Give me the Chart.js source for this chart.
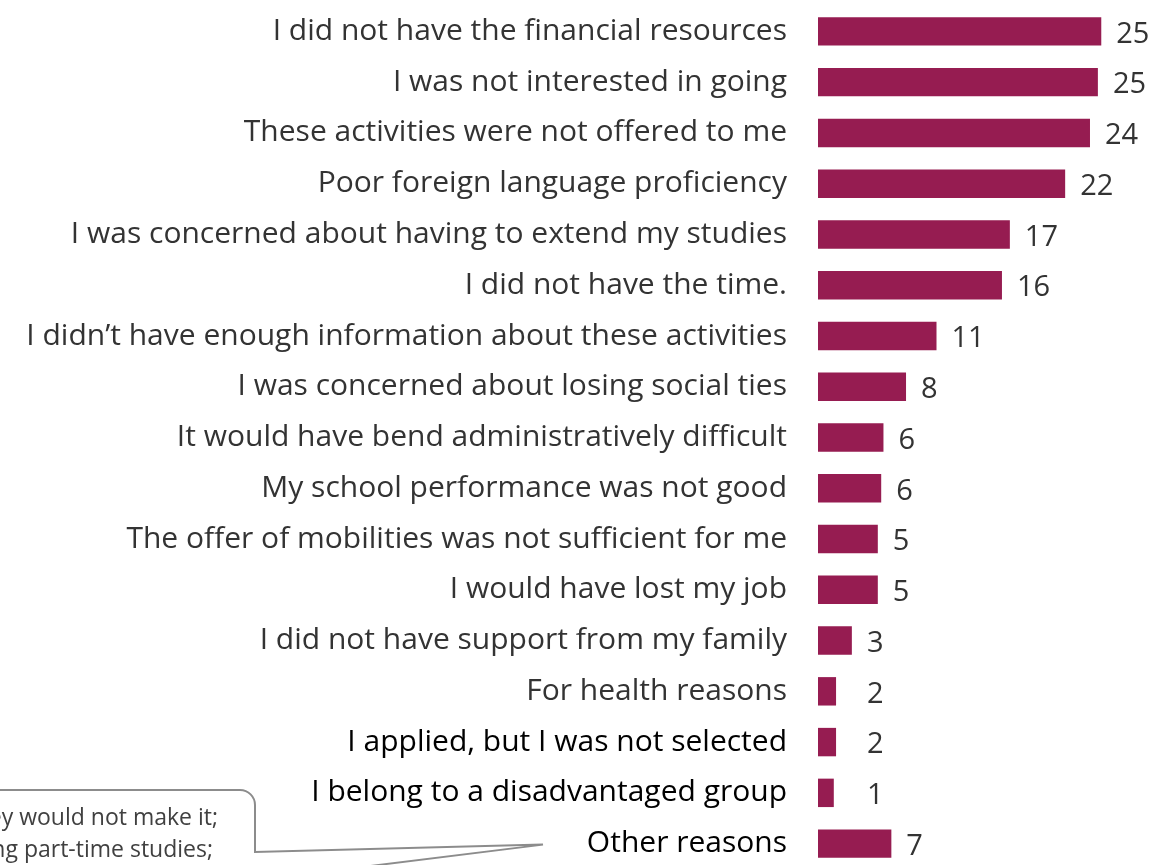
<!DOCTYPE html>
<html lang="en">
<head>
  <meta charset="UTF-8" />
  <title>Reasons for not taking part in mobility activities</title>
  <script src="https://cdn.jsdelivr.net/npm/chart.js"></script>
  <style>
    html, body {
      margin: 0;
      padding: 0;
      background: #fff;
      overflow: hidden;
    }
    #wrap {
      position: relative;
      width: 1153px;
      height: 870px;
    }
  </style>
</head>
<body>
  <div id="wrap">
    <canvas id="reasonsChart"></canvas>
  </div>

  <script>
    // ==== DATA ====
    const categories = [
      'I did not have the financial resources',
      'I was not interested in going',
      'These activities were not offered to me',
      'Poor foreign language proficiency',
      'I was concerned about having to extend my studies',
      'I did not have the time.',
      'I didn\u2019t have enough information about these activities',
      'I was concerned about losing social ties',
      'It would have bend administratively difficult',
      'My school performance was not good',
      'The offer of mobilities was not sufficient for me',
      'I would have lost my job',
      'I did not have support from my family',
      'For health reasons',
      'I applied, but I was not selected',
      'I belong to a disadvantaged group',
      'Other reasons'
    ];
    // share of respondents (%), shown rounded next to each bar
    const shares = [25.1, 24.8, 24.1, 21.9, 17.0, 16.3, 10.5, 7.8, 5.8, 5.6, 5.3, 5.3, 3.0, 1.6, 1.6, 1.4, 6.5];

    // text of the "Other reasons" callout
    const otherReasonsNote = [
      'they would not make it;',
      'doing part-time studies;'
    ];

    const barColor = '#961C51';
    const labelFont = '"Open Sans", "Noto Sans", sans-serif';

    // last three category labels are drawn in black, the rest in dark grey
    const tickColors = categories.map((c, i) => i >= 14 ? '#000000' : '#333333');

    // ==== VALUE LABELS ====
    const valueLabels = {
      id: 'valueLabels',
      afterDatasetsDraw(chart) {
        const { ctx } = chart;
        const meta = chart.getDatasetMeta(0);
        ctx.save();
        ctx.font = '29px ' + labelFont;
        ctx.fillStyle = '#333333';
        ctx.textAlign = 'left';
        ctx.textBaseline = 'middle';
        meta.data.forEach((bar, i) => {
          const x = Math.max(bar.x + 15, 867);
          ctx.fillText(String(Math.round(shares[i])), x, bar.y + 3);
        });
        ctx.restore();
      }
    };

    // ==== CALLOUT FOR "OTHER REASONS" ====
    const otherCallout = {
      id: 'otherCallout',
      afterDraw(chart) {
        const { ctx } = chart;
        const yScale = chart.scales.y;
        const tipY = yScale.getPixelForValue(categories.length - 1) + 1;
        const tipX = 543;
        const right = 255, top = 790, r = 15;
        ctx.save();
        ctx.strokeStyle = '#8c8c8c';
        ctx.lineWidth = 2;
        ctx.beginPath();
        ctx.moveTo(-10, top);
        ctx.lineTo(right - r, top);
        ctx.arcTo(right, top, right, top + r, r);
        ctx.lineTo(right, 852);
        ctx.lineTo(tipX, tipY);
        ctx.lineTo(330, 871);
        ctx.stroke();

        ctx.font = '23px ' + labelFont;
        ctx.fillStyle = '#404040';
        ctx.textAlign = 'right';
        ctx.textBaseline = 'middle';
        ctx.fillText(otherReasonsNote[0], 218, 818);
        ctx.fillText(otherReasonsNote[1], 213, 850);
        ctx.restore();
      }
    };

    // ==== CHART ====
    const ctx = document.getElementById('reasonsChart').getContext('2d');
    new Chart(ctx, {
      type: 'bar',
      data: {
        labels: categories,
        datasets: [{
          data: shares,
          backgroundColor: barColor,
          borderWidth: 0,
          categoryPercentage: 1,
          barPercentage: 0.56
        }]
      },
      options: {
        indexAxis: 'y',
        responsive: true,
        maintainAspectRatio: false,
        animation: false,
        layout: {
          padding: { top: 6, bottom: 1, left: 0, right: 19 }
        },
        plugins: {
          legend: { display: false },
          tooltip: { enabled: false }
        },
        scales: {
          x: {
            display: false,
            min: 0,
            max: 28
          },
          y: {
            grid: { display: false, drawTicks: false },
            border: { display: false },
            ticks: {
              padding: 31,
              autoSkip: false,
              color: tickColors,
              font: { family: labelFont, size: 30 }
            },
            afterFit(scale) {
              // fixed label column; no extra room above/below the bars
              scale.width = 818;
              scale.paddingTop = 0;
              scale.paddingBottom = 0;
            }
          }
        }
      },
      plugins: [valueLabels, otherCallout]
    });
  </script>
</body>
</html>
